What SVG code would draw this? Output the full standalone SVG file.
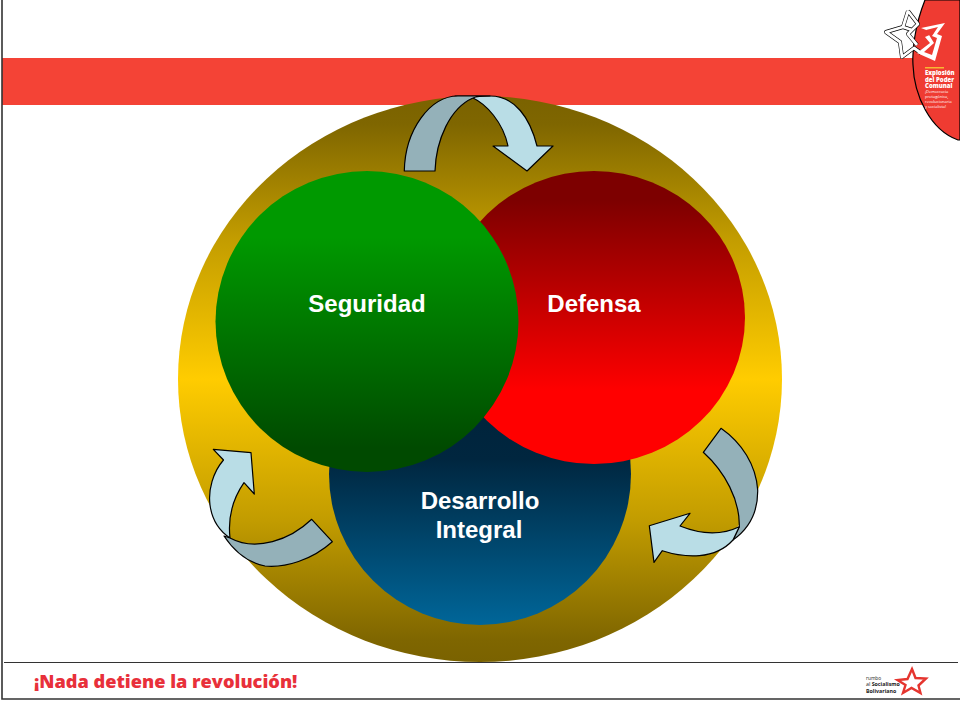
<svg xmlns="http://www.w3.org/2000/svg" width="960" height="720" viewBox="0 0 960 720">
<style>
.lbl{font-family:"Liberation Sans",Arial,sans-serif;font-weight:700;font-size:24px;fill:#fff;text-anchor:middle}
.ar{stroke:#000;stroke-width:1.2;stroke-linejoin:round}
.lt{fill:#b9dde6}.dk{fill:#94b1b9}
.logo{font-family:"Open Sans","Liberation Sans",sans-serif;fill:#fff}
</style>
<defs>
<linearGradient id="gOuter" x1="0" y1="0" x2="0" y2="1"><stop offset="0" stop-color="#7a6200"/><stop offset=".05" stop-color="#7f6600"/><stop offset=".25" stop-color="#c29c00"/><stop offset=".5" stop-color="#ffcc00"/><stop offset=".75" stop-color="#c29c00"/><stop offset=".96" stop-color="#7f6600"/><stop offset="1" stop-color="#7a6200"/></linearGradient>
<linearGradient id="gGreen" x1="0" y1="0" x2="0" y2="1"><stop offset="0" stop-color="#009900"/><stop offset=".22" stop-color="#009900"/><stop offset=".92" stop-color="#004a00"/></linearGradient>
<linearGradient id="gRed" x1="0" y1="0" x2="0" y2="1"><stop offset="0" stop-color="#7d0000"/><stop offset=".1" stop-color="#7d0000"/><stop offset=".75" stop-color="#ff0000"/><stop offset="1" stop-color="#ff0000"/></linearGradient>
<linearGradient id="gBlue" x1="0" y1="0" x2="0" y2="1"><stop offset="0" stop-color="#001f33"/><stop offset=".45" stop-color="#00263f"/><stop offset="1" stop-color="#006699"/></linearGradient>
</defs>
<rect width="960" height="720" fill="#fff"/>
<g id="frame">
<rect x="2" y="58" width="925" height="47" fill="#f44336"/>
<path d="M2 0V699H960" fill="none" stroke="#333" stroke-width="1.6"/>
<path d="M4 662.500H958" stroke="#333" stroke-width="1.2"/>
</g>
<g id="outer-circle"><ellipse cx="480" cy="379" rx="302" ry="283" fill="url(#gOuter)"/></g>
<g id="node-desarrollo"><circle cx="480" cy="474" r="151" fill="url(#gBlue)"/>
<text class="lbl" x="480" y="509">Desarrollo</text><text class="lbl" x="479" y="538">Integral</text></g>
<g id="node-defensa"><ellipse cx="594" cy="317.500" rx="151" ry="146.500" fill="url(#gRed)"/>
<text class="lbl" x="594" y="312">Defensa</text></g>
<g id="node-seguridad"><ellipse cx="367" cy="321.500" rx="151.500" ry="150.500" fill="url(#gGreen)"/>
<text class="lbl" x="367" y="312">Seguridad</text></g>
<g id="connectors">
<path class="ar lt" d="M473 98C486 104 503 122 508 146H493L527 171L553 146H537C530 118 515 96 490 96H455Z"/>
<path class="ar dk" d="M404.300 171C405 130 430 96 458 96H490C483 96 477 96 473 98C450 108 436 140 435 171Z"/>
<path class="ar lt" d="M230 538C228 520 232 500 244 482.700L254.300 494L251 452.700L213.300 449.300L223.500 460C213 472 208 490 210 505C212 520 218 530 230 538Z"/>
<path class="ar dk" d="M230 538C256 552 290 540 311.700 519.300L332.300 541.700C312 560 285 568 265 566C245 562 232 548 224 536Z"/>
<path class="ar dk" d="M721 428.300L703.300 452.300C725 472 740 500 739.300 526.700L733 540C750 528 758 510 757.700 490C756 465 742 443 721 428.300Z"/>
<path class="ar lt" d="M739.300 526.700C720 536 700 534 680 526L690 513.300L649.300 525.700L654 562.300L662.300 550.700C685 558 715 560 733 540Z"/>
</g>
<g id="logo-top">
<path d="M925 0C915 25 912 50 913 65C914 95 930 130 958 140H960V0Z" fill="#ef3b32" stroke="#000" stroke-width="1.200"/>
<path d="M908 11L903 27L886 32L900 42L902 57L914 48L921 53M908 11L918 24L908 34L917 45M903 27L912 30" fill="none" stroke="#000" stroke-width="4" stroke-linejoin="round"/>
<path d="M908 11L903 27L886 32L900 42L902 57L914 48L921 53M908 11L918 24L908 34L917 45M903 27L912 30" fill="none" stroke="#fff" stroke-width="2.800" stroke-linejoin="round"/>
<path d="M921 28L945 23L937 34L942 36L935 61L917 53L930 43L925 37L934 33Z" fill="#fff"/>
<path d="M926 30L938 27L932 36L937 38L932 55L924 52L934 43Z" fill="#ef3b32"/>
<rect x="925" y="67" width="19" height="1.500" fill="#f7b733"/>
<g class="logo" font-weight="800" font-size="6"><text x="925" y="75">Explosión</text><text x="925" y="81.500">del Poder</text><text x="925" y="88">Comunal</text></g>
<g class="logo" font-size="4"><text x="925" y="93">¡Democracia</text><text x="925" y="98">protagónica,</text><text x="925" y="103">revolucionaria</text><text x="925" y="108">y socialista!</text></g>
</g>
<g id="footer">
<text x="34" y="688" font-family="'Open Sans','Liberation Sans',sans-serif" font-weight="800" font-size="18.200" fill="#e8303a">¡Nada detiene la revolución!</text>
<g font-family="'Open Sans','Liberation Sans',sans-serif" fill="#222"><text x="866" y="679.500" font-size="4.800">rumbo</text><text x="866" y="686" font-size="5.300">al <tspan font-weight="700">Socialismo</tspan></text><text x="866" y="692.500" font-size="5.300" font-weight="700">Bolivariano</text></g>
<path d="M912 669L915.500 678L926 678.500L918.500 685.500L920.500 693L911.500 688L903 693L905.500 685L897.500 680L907.500 679Z" fill="#fff" stroke="#e5352f" stroke-width="2.400"/>
</g>
</svg>
